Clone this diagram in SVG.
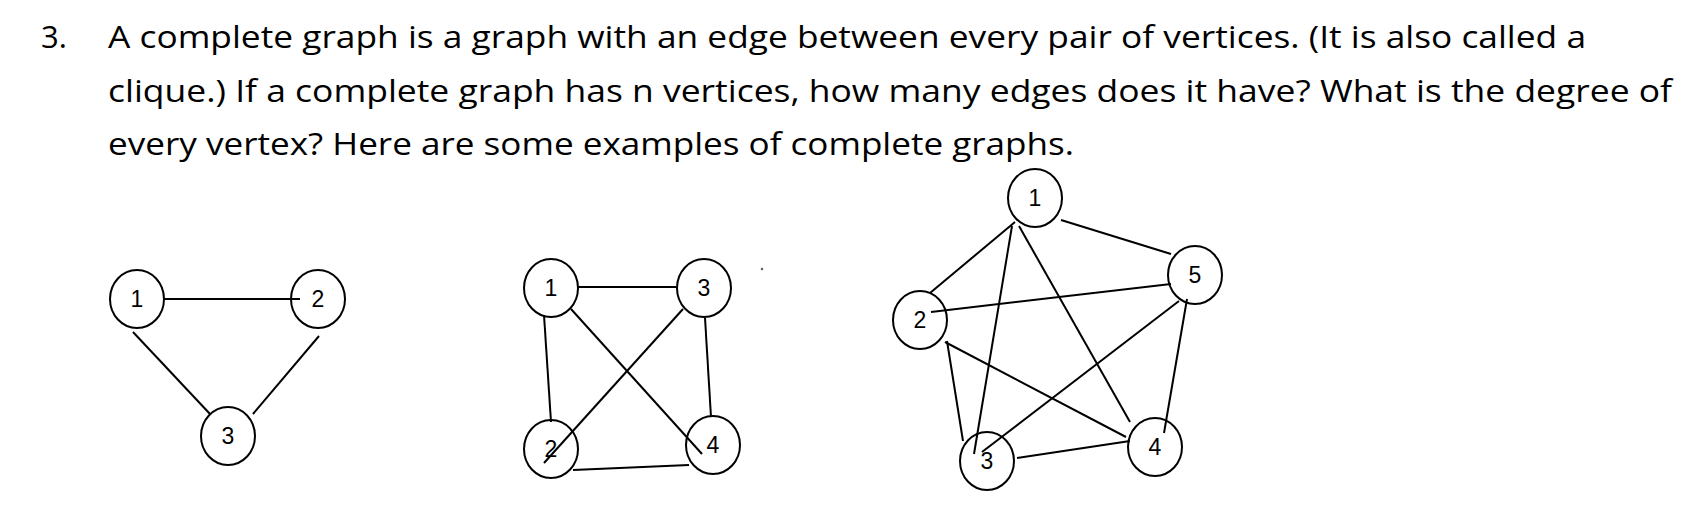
<svg xmlns="http://www.w3.org/2000/svg" width="1688" height="514" viewBox="0 0 1688 514">
<style>
.t{font-family:"Open Sans","Liberation Sans",sans-serif;font-size:31px;fill:#000}
.n ellipse{fill:none;stroke:#000;stroke-width:2}
.n text{font-family:"Liberation Sans",Arial,sans-serif;font-size:23px;text-anchor:middle;fill:#000}
#edges line{stroke:#000;stroke-width:2}
</style>
<rect width="1688" height="514" fill="#fff"/>
<g id="question">
<text class="t" x="41" y="48">3.</text>
<text class="t" x="108" y="48" textLength="1478" lengthAdjust="spacingAndGlyphs">A complete graph is a graph with an edge between every pair of vertices. (It is also called a</text>
<text class="t" x="108" y="102" textLength="1564" lengthAdjust="spacingAndGlyphs">clique.) If a complete graph has n vertices, how many edges does it have? What is the degree of</text>
<text class="t" x="108" y="155" textLength="966" lengthAdjust="spacingAndGlyphs">every vertex? Here are some examples of complete graphs.</text>
</g>
<g id="edges">
<line x1="164" y1="299" x2="300" y2="299"/>
<line x1="133" y1="332" x2="210" y2="414"/>
<line x1="319" y1="336" x2="253" y2="414"/>
<line x1="578" y1="287" x2="676" y2="287"/>
<line x1="544" y1="315" x2="551" y2="422"/>
<line x1="571" y1="309" x2="702" y2="454"/>
<line x1="683" y1="309" x2="544" y2="463"/>
<line x1="705" y1="318" x2="711" y2="417"/>
<line x1="573" y1="470" x2="689" y2="465"/>
<line x1="1015" y1="222" x2="930" y2="293"/>
<line x1="1061" y1="220" x2="1171" y2="254"/>
<line x1="1012" y1="226" x2="974" y2="454"/>
<line x1="1019" y1="226" x2="1130" y2="422"/>
<line x1="931" y1="312" x2="1171" y2="284"/>
<line x1="947" y1="341" x2="963" y2="441"/>
<line x1="945" y1="342" x2="1126" y2="437"/>
<line x1="1179" y1="301" x2="982" y2="452"/>
<line x1="1187" y1="299" x2="1164" y2="433"/>
<line x1="1017" y1="458" x2="1130" y2="441"/>
</g>
<g id="k3-1" class="n"><ellipse cx="137" cy="299" rx="27" ry="29"/><text x="137" y="307">1</text></g>
<g id="k3-2" class="n"><ellipse cx="318" cy="299" rx="27" ry="29"/><text x="318" y="307">2</text></g>
<g id="k3-3" class="n"><ellipse cx="228" cy="436" rx="27" ry="29"/><text x="228" y="444">3</text></g>
<g id="k4-1" class="n"><ellipse cx="551" cy="288" rx="27" ry="29"/><text x="551" y="296">1</text></g>
<g id="k4-3" class="n"><ellipse cx="704" cy="288" rx="27" ry="29"/><text x="704" y="296">3</text></g>
<g id="k4-2" class="n"><ellipse cx="551" cy="449" rx="27" ry="29"/><text x="551" y="457">2</text></g>
<g id="k4-4" class="n"><ellipse cx="713" cy="445" rx="27" ry="29"/><text x="713" y="453">4</text></g>
<g id="k5-1" class="n"><ellipse cx="1035" cy="198" rx="27" ry="29"/><text x="1035" y="206">1</text></g>
<g id="k5-5" class="n"><ellipse cx="1195" cy="275" rx="27" ry="29"/><text x="1195" y="283">5</text></g>
<g id="k5-2" class="n"><ellipse cx="920" cy="320" rx="27" ry="29"/><text x="920" y="328">2</text></g>
<g id="k5-3" class="n"><ellipse cx="987" cy="461" rx="27" ry="29"/><text x="987" y="469">3</text></g>
<g id="k5-4" class="n"><ellipse cx="1155" cy="447" rx="27" ry="29"/><text x="1155" y="455">4</text></g>
<circle cx="762" cy="269" r="1.2" fill="#555"/>
</svg>
